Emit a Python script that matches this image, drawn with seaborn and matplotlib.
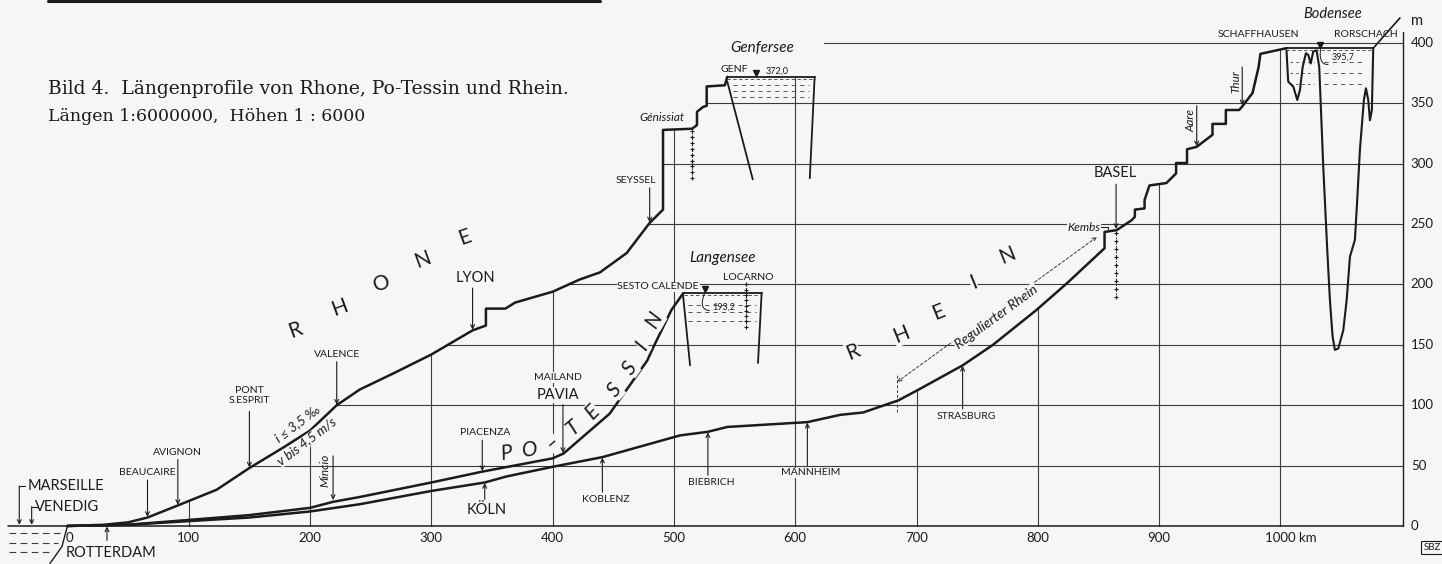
import matplotlib
matplotlib.use("Agg")
import numpy as np
import pandas as pd
import seaborn as sns
import matplotlib.pyplot as plt

# ---- values: distance from the sea (km), height above sea (m) ----
rhone_km = [0, 30, 50, 66, 91, 123, 150, 178, 200, 222, 241, 270, 300, 334, 345, 345, 361, 369,
            400, 422, 439, 461, 480, 491, 491, 515, 519, 519, 524, 527, 527, 542, 544]
rhone_m = [0, 1, 3, 7, 17, 30, 48, 65, 79, 100, 113, 127, 142, 162, 166, 180, 180, 185,
           194, 204, 210, 226, 251, 262, 328, 329, 332, 343, 347, 348, 364, 365, 372]
genfersee_km = [544, 616]
genfersee_level = 372.0

po_km = [0, 50, 100, 150, 200, 219, 241, 300, 342, 400, 409, 447, 478, 483, 498, 508]
po_m = [0, 1, 5, 9, 15, 20, 24, 36, 45, 56, 60, 93, 137, 148, 179, 193.2]
langensee_km = [508, 573]
langensee_level = 193.2

rhein_km = [0, 50, 100, 150, 200, 241, 300, 344, 362, 400, 441, 505, 528, 544, 610, 637, 656,
            685, 700, 738, 763, 799, 824, 855, 855, 865, 877, 880, 880, 888, 888, 892, 906,
            914, 914, 923, 923, 931, 944, 944, 955, 955, 966, 969, 977, 982, 983.5, 1005]
rhein_m = [0, 1, 4, 7, 12, 18, 29, 36, 41, 49, 57, 75, 78, 82, 86, 92, 94,
           104, 112, 133, 150, 179, 201, 230, 243.5, 245, 253, 256, 262, 263, 270, 282, 284,
           292, 300.6, 300.6, 312, 314, 324, 333, 333, 344.5, 344.5, 348, 358.6, 380, 391, 395.7]
bodensee_km = [1005, 1076.5]
bodensee_level = 395.7
# bed of Untersee and Bodensee
bodensee_bed_km = [1005, 1006.4, 1010.6, 1013.9, 1016.1, 1018.3, 1021, 1023, 1025, 1027, 1029.8,
                   1032, 1035.3, 1038.6, 1040.8, 1043, 1044.9, 1047.7, 1051.8, 1054.6, 1057.3,
                   1061.4, 1063.3, 1065.5, 1068.8, 1070.5, 1072.4, 1073.8, 1075.4, 1076.5]
bodensee_bed_m = [394, 368, 363.8, 352.8, 361, 380, 391.5, 390, 383, 392.8, 394,
                  380, 297.6, 228.6, 187, 156.8, 145.8, 147, 162, 187, 223,
                  236.9, 270, 311, 352.8, 362.5, 352.8, 336, 344.5, 395.7]

x_ticks = [0, 100, 200, 300, 400, 500, 600, 700, 800, 900, 1000]
y_ticks = [0, 50, 100, 150, 200, 250, 300, 350, 400]

# place name, km, label height
rhone_places = [("BEAUCAIRE", 66, 44), ("AVIGNON", 91, 61), ("PONT\nS.ESPRIT", 150, 108),
                ("VALENCE", 222, 142), ("SEYSSEL", 480, 286)]
po_places = [("PIACENZA", 342, 77)]
rhein_places_below = [("KOBLENZ", 441, 22), ("BIEBRICH", 528, 36), ("MANNHEIM", 610, 44),
                      ("STRASBURG", 738, 91)]

BG = "#f6f6f4"
INK = "#1b1b1b"
GRID = "#3c3c3c"
AXIS_END = 1101

sns.set_style("white")
plt.rcParams["font.family"] = ["Lato", "DejaVu Sans"]

fig = plt.figure(figsize=(14.42, 5.64), dpi=100, facecolor=BG)
ax = fig.add_axes([0, 0, 1, 1])
ax.set_facecolor(BG)
ax.set_xlim(-55.6, 1133.2)
ax.set_ylim(-31.5, 435.6)
ax.axis("off")

# ---- grid: horizontal lines start at the Rhone profile, vertical ones stop at the top profile ----
for h in y_ticks[1:]:
    if h <= max(rhone_m):
        start = np.interp(h, rhone_m, rhone_km)
    else:
        start = genfersee_km[1] + 8
    ax.plot([start, AXIS_END], [h, h], color=GRID, lw=0.8, zorder=1)
top_km = rhone_km + genfersee_km[1:]
top_m = rhone_m + [genfersee_level]
for k in x_ticks[1:]:
    if k <= genfersee_km[1]:
        top = np.interp(k, top_km, top_m)
    else:
        top = np.interp(k, rhein_km, rhein_m)
    ax.plot([k, k], [0, top], color=GRID, lw=0.8, zorder=1)

ax.plot([-49, AXIS_END], [0, 0], color=INK, lw=1.1, zorder=2)
ax.plot([AXIS_END, AXIS_END], [0, 409], color=INK, lw=1.0, zorder=2)
ax.plot([-16, 439], [434.4, 434.4], color=INK, lw=2.2)

# ---- the three profiles ----
for km, m in [(rhone_km, rhone_m), (po_km, po_m), (rhein_km, rhein_m)]:
    sns.lineplot(x=km, y=m, sort=False, estimator=None, color=INK, lw=1.8, ax=ax, zorder=3)
sns.lineplot(x=bodensee_bed_km, y=bodensee_bed_m, sort=False, estimator=None,
             color=INK, lw=1.5, ax=ax, zorder=3)
ax.plot([bodensee_km[1], 1098.5], [bodensee_level, 420.7], color=INK, lw=1.2)

# lakes: surface, shores and water hatching
for lk, lev in [(genfersee_km, genfersee_level), (langensee_km, langensee_level),
                (bodensee_km, bodensee_level)]:
    ax.plot(lk, [lev, lev], color=INK, lw=1.3, zorder=3)
    ax.plot(lk, [lev - 1.6, lev - 1.6], color=GRID, lw=0.6, ls=(0, (4, 3)), zorder=3)
ax.plot([544, 565], [368, 287], color=INK, lw=1.3)
ax.plot([616, 612], [372, 288], color=INK, lw=1.3)
ax.plot([507.5, 513.3], [191, 133], color=INK, lw=1.3)
ax.plot([572.3, 569.3], [193.2, 135], color=INK, lw=1.3)
for lev in [365, 360, 355]:
    ax.plot([549, 611], [lev, lev], color=GRID, lw=0.6, ls=(0, (5, 5)))
for lev in [183, 177, 170]:
    ax.plot([512, 568], [lev, lev], color=GRID, lw=0.6, ls=(0, (5, 5)))
for lev in [384, 375, 366]:
    ax.plot([1036, 1070], [lev, lev], color=GRID, lw=0.6, ls=(0, (5, 5)))
    ax.plot([1008, 1028], [lev, lev], color=GRID, lw=0.6, ls=(0, (3, 4)))

# dams shown as dotted verticals
for k, lo, hi in [(515, 288, 327), (559, 165, 200), (864.5, 190, 243)]:
    yy = np.linspace(lo, hi, 9)
    ax.plot([k] * len(yy), yy, color=INK, lw=0.8, ls=":", marker="+", ms=3.5, mew=0.8)

# sea at the left
for lev, x1 in [(-6, -4), (-14, -8), (-21.5, -12)]:
    ax.plot([-48, x1], [lev, lev], color=GRID, lw=0.8, ls=(0, (6, 4)))
ax.plot([0, -4.5, -14.4], [0, -17, -31], color=INK, lw=1.0)

# ---- axis labels ----
for k in x_ticks[:-1]:
    ax.text(k + (2 if k == 0 else 0), -10, str(k), ha="center", va="center", fontsize=9.5, color=INK)
ax.text(x_ticks[-1] - 12.5, -10, f"{x_ticks[-1]} km", ha="left", va="center", fontsize=9.5, color=INK)
for h in y_ticks:
    ax.text(1107.5, h, str(h), ha="left", va="center", fontsize=9.5, color=INK)
ax.text(1107.5, 418, "m", ha="left", va="center", fontsize=10.5, color=INK)

# ---- place names ----
arrow = dict(arrowstyle="->", color=INK, lw=0.8, shrinkA=0, shrinkB=0, mutation_scale=7)

def point(text, km, label_m, tip_m, x_text=None, size=7.5, gap=6, **kw):
    xt = km if x_text is None else x_text
    ax.text(xt, label_m, text, ha="center", va="center", fontsize=size, color=INK,
            linespacing=1.05, zorder=5, **kw)
    start = label_m - gap if tip_m < label_m else label_m + gap
    ax.annotate("", xy=(km, tip_m), xytext=(km, start), arrowprops=arrow, zorder=4)

for name, k, lm in rhone_places:
    gap = 13 if "\n" in name else 6
    xt = k - 11 if name == "SEYSSEL" else k
    point(name, k, lm, np.interp(k, rhone_km, rhone_m) + 0.5, x_text=xt, gap=gap)
point("LYON", 334, 205, 162.5, x_text=336, size=10.5, gap=8)
for name, k, lm in po_places:
    point(name, k, lm, np.interp(k, po_km, po_m) + 0.5, x_text=k + 2)
ax.text(404, 123, "MAILAND", ha="center", va="center", fontsize=7.5, color=INK,
        bbox=dict(fc=BG, ec="none", pad=0.5))
point("PAVIA", 408.5, 108.5, 60.5, x_text=404, size=10.5, gap=8,
      bbox=dict(fc=BG, ec="none", pad=0.5))
for name, k, lm in rhein_places_below:
    point(name, k, lm, np.interp(k, rhein_km, rhein_m) - 0.5, x_text=k + 3,
          bbox=dict(fc=BG, ec="none", pad=0.5))
point("KÖLN", 344, 13, 35.5, x_text=346, size=10.5, gap=9)
point("BASEL", 864.5, 292, 246, x_text=864, size=10.5, gap=9)
point("ROTTERDAM", 32.6, -22, -0.5, x_text=36, size=10.5, gap=10)

# Marseille / Venedig at the coast
ax.text(-33, 33, "MARSEILLE", ha="left", va="center", fontsize=10.5, color=INK)
ax.text(-27, 16, "VENEDIG", ha="left", va="center", fontsize=10.5, color=INK)
for k, lm in [(-39.7, 33), (-29.5, 16)]:
    ax.plot([k, k + 5], [lm, lm], color=INK, lw=0.8)
    ax.annotate("", xy=(k, 1), xytext=(k, lm), arrowprops=arrow)

# tributaries
for name, k, lm, tip, xt in [("Mincio", 219, 46, 21.5, 212.5), ("Aare", 931, 336, 314.5, 926),
                             ("Thur", 968.5, 368, 348.5, 963)]:
    ax.text(xt, lm, name, rotation=90, ha="center", va="center", fontsize=8.5,
            style="italic", color=INK)
    ax.annotate("", xy=(k, tip), xytext=(k, lm + 12), arrowprops=arrow)

# lakes, dams, levels
for text, k, lm, size in [("Genfersee", 573, 396, 11), ("Langensee", 540, 222, 11),
                          ("Bodensee", 1043, 424, 10.5), ("Génissiat", 490, 338, 8.5)]:
    ax.text(k, lm, text, ha="center", va="center", fontsize=size, style="italic", color=INK)
ax.text(838, 247, "Kembs", ha="center", va="center", fontsize=8.5, style="italic", color=INK,
        bbox=dict(fc=BG, ec="none", pad=0.3))
ax.plot([851, 858, 858], [248, 248, 246], color=INK, lw=0.8)
for text, k, lm in [("GENF", 549.5, 378), ("LOCARNO", 561, 206),
                    ("SCHAFFHAUSEN", 982, 407), ("RORSCHACH", 1070.5, 407)]:
    ax.text(k, lm, text, ha="center", va="center", fontsize=7.5, color=INK)
ax.text(487, 198, "SESTO CALENDE", ha="center", va="center", fontsize=7.5, color=INK,
        bbox=dict(fc=BG, ec="none", pad=0.5))
ax.plot([568], [375.5], marker="v", color=INK, ms=4)
ax.text(576, 377, "372,0", ha="left", va="center", fontsize=6.5, color=INK)
for mk, ml, tx, tl, lab in [(526, 196, 532, 181, "193,2"), (1032.6, 398.5, 1042, 388, "395,7")]:
    ax.plot([mk], [ml], marker="v", color=INK, ms=4)
    ax.annotate(lab, xy=(mk + 1, ml + 1), xytext=(tx, tl), fontsize=6.5, color=INK,
                ha="left", va="center",
                arrowprops=dict(arrowstyle="-", color=INK, lw=0.7,
                                connectionstyle="arc3,rad=-1.2", shrinkA=0, shrinkB=0))

# slope note on the Rhone
ax.text(190, 85, "i ≤ 3,5 ‰", rotation=37, rotation_mode="anchor", ha="center", va="center",
        fontsize=9.5, style="italic", color=INK)
ax.text(197.5, 70, "v bis 4,5 m/s", rotation=37, rotation_mode="anchor", ha="center",
        va="center", fontsize=9.5, style="italic", color=INK, bbox=dict(fc=BG, ec="none", pad=0.3))

# regulated Rhine
ax.annotate("", xy=(684, 119.3), xytext=(848.7, 239.3),
            arrowprops=dict(arrowstyle="<->", color=GRID, lw=0.7, ls=(0, (3, 2)),
                            shrinkA=0, shrinkB=0, mutation_scale=7))
ax.plot([684, 684], [94, 127], color=GRID, lw=0.7, ls=(0, (3, 2)))
ax.text(765.5, 173, "Regulierter Rhein", rotation=36, rotation_mode="anchor", ha="center",
        va="center", fontsize=10, style="italic", color=INK, bbox=dict(fc=BG, ec="none", pad=0.5))

# river names written along the profiles
for ch, k, lm, rot in [("R", 187.6, 162.3, 20), ("H", 224.7, 180.5, 20), ("O", 259.3, 201.2, 20),
                       ("N", 293.1, 220.3, 20), ("E", 327.7, 239.3, 20)]:
    ax.text(k, lm, ch, rotation=rot, ha="center", va="center", fontsize=15, color=INK)
for ch, k, lm, rot in [("P", 362.3, 60.5, 8), ("O", 381.3, 62.9, 8), ("–", 399.4, 69.6, 40),
                       ("T", 416.7, 81.2, 40), ("E", 433.2, 94.4, 45), ("S", 451.4, 112.6, 50),
                       ("S", 463.8, 130.8, 55), ("I", 473.6, 149.9, 58), ("N", 484.3, 170.6, 60)]:
    ax.text(k, lm, ch, rotation=rot, ha="center", va="center", fontsize=15, style="italic",
            color=INK, bbox=dict(fc=BG, ec="none", pad=0.2))
for ch, k, lm, rot in [("R", 647.6, 144.1, 22), ("H", 687.2, 158.2, 22), ("E", 717.7, 177.2, 22),
                       ("I", 746.6, 202.1, 22), ("N", 774.6, 224.4, 22)]:
    ax.text(k, lm, ch, rotation=rot, ha="center", va="center", fontsize=15, color=INK,
            bbox=dict(fc=BG, ec="none", pad=0.3))

ax.text(1125, -18, "SBZ", ha="center", va="center", fontsize=7, color=INK,
        bbox=dict(boxstyle="square,pad=0.2", fc="none", ec=INK, lw=0.8))

# caption
serif = ["DejaVu Serif"]
fig.text(0.0333, 0.842, "Bild 4.  Längenprofile von Rhone, Po-Tessin und Rhein.",
         family=serif, fontsize=13.5, color=INK, va="center")
fig.text(0.0333, 0.794, "Längen 1:6000000,  Höhen 1 : 6000",
         family=serif, fontsize=12.5, color=INK, va="center")

fig.savefig("out.png", dpi=100, facecolor=BG)
